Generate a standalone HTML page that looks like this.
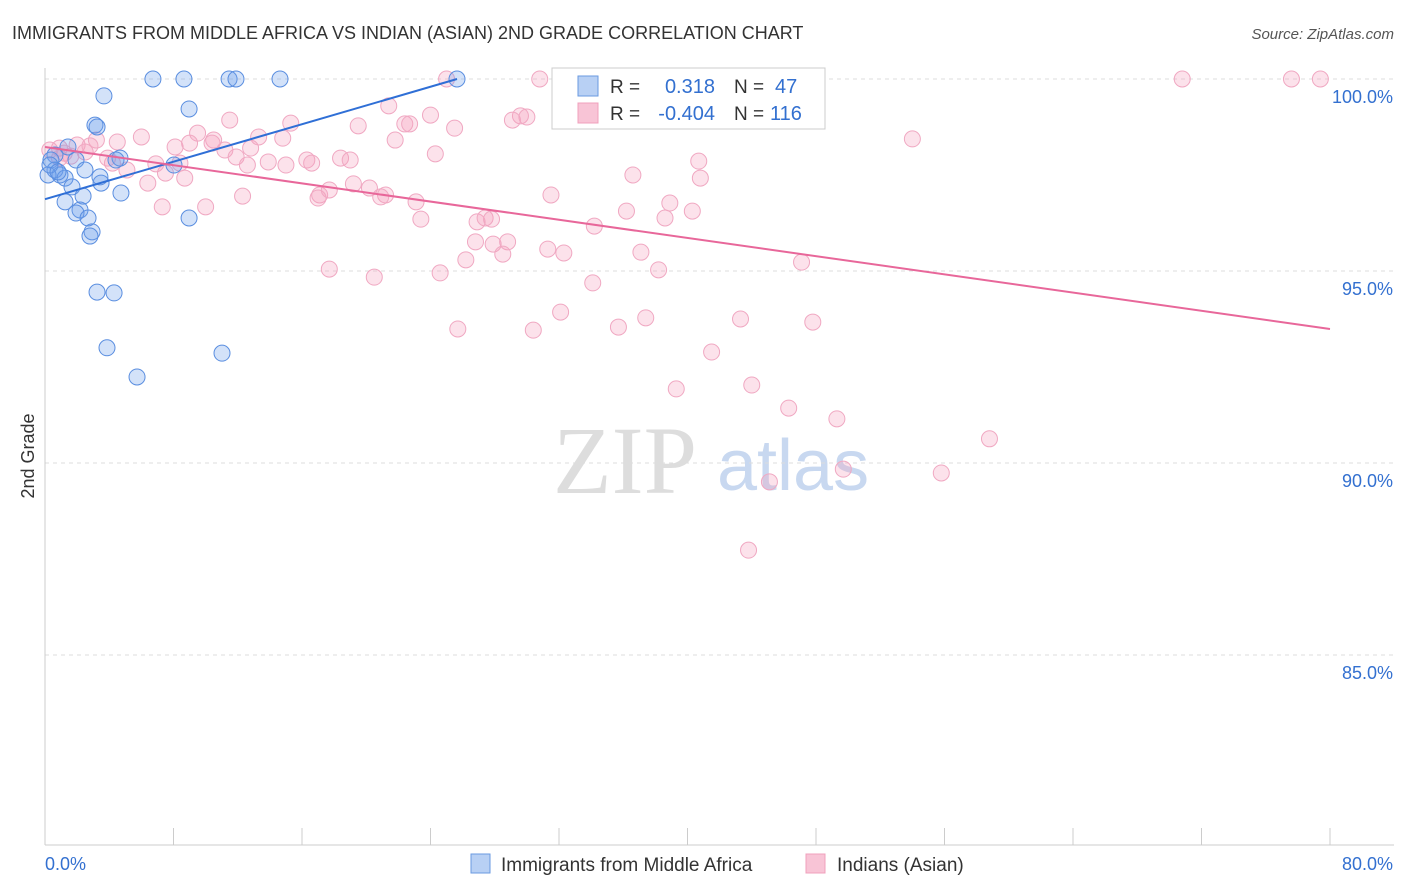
<!DOCTYPE html>
<html><head><meta charset="utf-8"><style>
body{margin:0;background:#fff;font-family:"Liberation Sans",sans-serif}
svg{display:block}
</style></head><body>
<svg id="chart" width="1406" height="892">
<text x="12" y="39" font-size="18" fill="#333">IMMIGRANTS FROM MIDDLE AFRICA VS INDIAN (ASIAN) 2ND GRADE CORRELATION CHART</text>
<text x="1394" y="39" font-size="15" fill="#555" font-style="italic" text-anchor="end">Source: ZipAtlas.com</text>
<g>
<text x="553" y="493" font-size="96" fill="#ddd" font-family="Liberation Serif,serif">ZIP</text>
<text x="717" y="490" font-size="72" fill="#c8d8f0">atlas</text>
</g>
<g id="grid"></g>
<g id="axes"></g>
<g id="marks"></g>
<text x="34" y="456" font-size="18" fill="#333" transform="rotate(-90 34 456)" text-anchor="middle">2nd Grade</text>
<g>
<rect x="552" y="68" width="273" height="61" fill="#fff" stroke="#ccc"/>
<rect x="578" y="76" width="20" height="20" fill="#b8d0f4" stroke="#6a9ae0"/>
<rect x="578" y="103" width="20" height="20" fill="#f8c4d6" stroke="#f0a0bc"/>
<text x="610" y="93" font-size="19" fill="#333">R = </text><text x="715" y="93" font-size="20" fill="#3370d0" text-anchor="end">0.318</text>
<text x="734" y="93" font-size="19" fill="#333">N = </text><text x="775" y="93" font-size="20" fill="#3370d0">47</text>
<text x="610" y="120" font-size="19" fill="#333">R = </text><text x="715" y="120" font-size="20" fill="#3370d0" text-anchor="end">-0.404</text>
<text x="734" y="120" font-size="19" fill="#333">N = </text><text x="770" y="120" font-size="20" fill="#3370d0">116</text>
</g>
<g>
<rect x="471" y="854" width="19" height="19" fill="#b8d0f4" stroke="#6a9ae0"/>
<text x="501" y="871" font-size="19" fill="#333">Immigrants from Middle Africa</text>
<rect x="806" y="854" width="19" height="19" fill="#f8c4d6" stroke="#f0a0bc"/>
<text x="837" y="871" font-size="19" fill="#333">Indians (Asian)</text>
</g>
</svg>
<script>
const yTicks=[100,95,90,85];
const xTickLabels=["0.0%","80.0%"];
const blueX=[6.72,8.65,11.46,11.89,14.63,25.65,3.67,8.97,3.11,3.24,1.43,0.62,0.37,4.67,4.42,1.93,8.03,0.62,0.93,1.25,0.19,1.68,3.49,3.42,4.73,2.37,1.25,2.18,1.93,2.68,8.97,2.93,2.8,3.24,4.30,3.86,11.02,5.73,0.31,0.81,2.49];
const blueY=[100,100,100,100,100,100,99.56,99.22,98.80,98.75,98.23,98.02,97.89,97.94,97.89,97.89,97.76,97.63,97.5,97.42,97.5,97.19,97.29,97.45,97.03,96.95,96.8,96.59,96.51,96.38,96.38,96.02,95.91,94.45,94.43,93.0,92.86,92.24,97.76,97.58,97.63];
const pinkX=[25.0,30.8,46.8,70.8,77.6,79.4,21.4,15.3,11.5,19.5,24.0,22.4,22.7,25.5,29.6,29.1,30.0,21.8,24.3,14.8,13.3,10.5,9.5,6.0,4.5,3.2,2.0,0.9,0.3,1.2,2.5,8.1,11.2,11.9,13.9,12.6,16.3,16.6,15.0,18.4,19.0,9.0,10.4,7.5,8.7,6.4,5.1,4.2,6.9,8.4,19.2,20.2,21.2,20.9,23.1,17.1,17.0,17.7,7.3,10.0,12.3,31.5,36.6,40.7,40.8,38.9,40.3,36.2,38.6,34.2,23.4,26.9,27.4,27.8,26.8,27.9,28.8,28.5,31.3,32.3,26.2,24.6,37.1,38.2,47.1,54.0,17.7,20.5,34.1,25.7,30.4,32.1,35.7,37.4,43.3,47.8,41.5,39.3,44.0,46.3,49.3,58.8,49.7,55.8,45.1,43.8,0.9,1.6,2.8,3.9,12.8];
const pinkY=[100,100,100,100,100,100,99.30,98.85,98.93,98.78,99.06,98.83,98.83,98.72,99.04,98.93,99.01,98.41,98.05,98.46,98.49,98.41,98.59,98.49,98.36,98.41,98.28,98.20,98.15,98.07,98.10,98.23,98.15,97.97,97.84,97.76,97.89,97.81,97.76,97.94,97.89,98.33,98.33,97.55,97.42,97.29,97.63,97.81,97.79,97.81,97.27,97.16,96.98,96.93,96.80,96.98,96.90,97.11,96.67,96.67,96.95,96.98,97.50,97.86,97.42,96.77,96.56,96.56,96.38,96.17,96.35,96.28,96.38,96.35,95.76,95.70,95.76,95.44,95.57,95.47,95.29,94.95,95.49,95.03,95.23,98.44,95.05,94.84,94.69,93.49,93.46,93.93,93.54,93.78,93.75,93.67,92.89,91.93,92.03,91.43,91.15,90.63,89.84,89.74,89.51,87.73,97.94,97.99,98.26,97.94,98.20];
const blueTrend=[0,96.87,25.65,100];
const pinkTrend=[0,98.23,80,93.49];
const NS="http://www.w3.org/2000/svg";
function sx(v){return 45+v*(1330-45)/80;}
function sy(v){return 79+(100-v)*38.4;}
function mk(tag,attrs,parent){const e=document.createElementNS(NS,tag);for(const k in attrs)e.setAttribute(k,attrs[k]);parent.appendChild(e);return e;}
const grid=document.getElementById('grid'),axes=document.getElementById('axes'),marks=document.getElementById('marks');
yTicks.forEach(t=>{
 const l=mk('line',{x1:45,x2:1394,y1:sy(t),y2:sy(t),stroke:'#ddd','stroke-dasharray':'4,4'},grid);
 
 
 const tx=mk('text',{x:1393,y:sy(t)+24,'font-size':18,fill:'#3370d0','text-anchor':'end'},axes);
 tx.textContent=t.toFixed(1)+'%';
 
 
});
const yl=mk('line',{x1:45,x2:45,y1:68,y2:845,stroke:'#ccc'},axes);


const xl=mk('line',{x1:45,x2:1394,y1:845,y2:845,stroke:'#ccc'},axes);


for(let i=0;i<=10;i++){
 const tk=mk('line',{x1:sx(i*8),x2:sx(i*8),y1:828,y2:845,stroke:'#ccc'},axes);
 
 
}
xTickLabels.forEach((s,i)=>{
 const tx=mk('text',{x:i?1393:45,y:870,'font-size':18,fill:'#3370d0','text-anchor':i?'end':'start'},axes);
 tx.textContent=s;
 
 
});
pinkX.forEach((x,i)=>{
 const c=mk('circle',{cx:sx(x),cy:sy(pinkY[i]),r:8,fill:'rgba(244,160,190,0.3)',stroke:'#f0a8c2','stroke-width':1},marks);
 
 
});
blueX.forEach((x,i)=>{
 const c=mk('circle',{cx:sx(x),cy:sy(blueY[i]),r:8,fill:'rgba(110,160,235,0.3)',stroke:'#5a8ee0','stroke-width':1},marks);
 
 
});
const bt=mk('line',{x1:sx(blueTrend[0]),y1:sy(blueTrend[1]),x2:sx(blueTrend[2]),y2:sy(blueTrend[3]),stroke:'#2f6fd6','stroke-width':2},marks);


const pt=mk('line',{x1:sx(pinkTrend[0]),y1:sy(pinkTrend[1]),x2:sx(pinkTrend[2]),y2:sy(pinkTrend[3]),stroke:'#e8679a','stroke-width':2},marks);


</script>
</body></html>
